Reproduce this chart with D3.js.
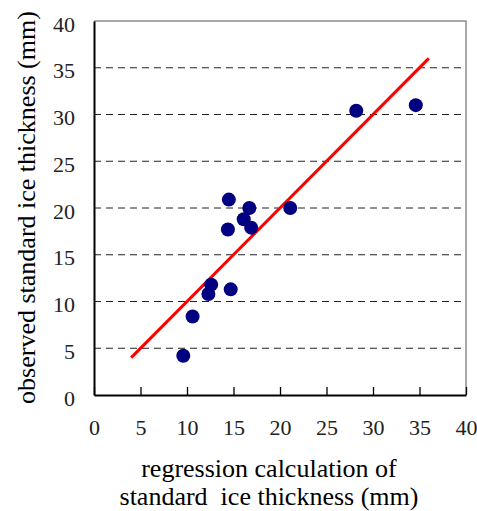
<!DOCTYPE html>
<html>
<head>
<meta charset="utf-8">
<script src="https://cdn.jsdelivr.net/npm/d3@7"></script>
<style>
  html, body { margin: 0; padding: 0; background: #fff; }
  svg text { font-family: "Liberation Serif", "Times New Roman", Times, "DejaVu Serif", serif; }
</style>
</head>
<body>
<div id="chart"></div>
<script>
// regression calculation (x) vs observed (y) standard ice thickness, mm
const calcValues = [9.6, 10.6, 12.3, 12.6, 14.7, 14.5, 14.4, 16.1, 16.7, 16.9, 21.1, 28.2, 34.6]
const observedValues = [4.2, 8.4, 10.8, 11.8, 11.3, 20.9, 17.7, 18.8, 20.0, 17.9, 20.0, 30.4, 31.0]
const fitLine = [[4, 4], [36, 36]]
const xTicks = [0, 5, 10, 15, 20, 25, 30, 35, 40]
const yTicks = [0, 5, 10, 15, 20, 25, 30, 35, 40]
const gridValues = [5, 10, 15, 20, 25, 30, 35]
const xTitle = ["regression calculation of", "standard  ice thickness (mm)"]
const yTitle = "observed standard ice thickness (mm)"

const width = 477
const height = 511
const margin = { top: 21, right: 11, bottom: 116, left: 94 }
const innerW = width - margin.left - margin.right
const innerH = height - margin.top - margin.bottom

const svg = d3.select("#chart")
  .append("svg")
  .attr("width", width)
  .attr("height", height)

const x = d3.scaleLinear().domain([0, 40]).range([margin.left, margin.left + innerW])
const y = d3.scaleLinear().domain([0, 40]).range([margin.top + innerH, margin.top])

// dashed horizontal gridlines
svg.append("g")
  .selectAll("line")
  .data(gridValues)
  .join("line")
  .attr("x1", x(0))
  .attr("x2", x(40))
  .attr("y1", d => y(d))
  .attr("y2", d => y(d))
  .attr("stroke", "#222")
  .attr("stroke-width", 1)
  .attr("stroke-dasharray", "7,5")

// gray frame on top and right
svg.append("path")
  .attr("d", `M${x(0)},${y(40)} H${x(40)} V${y(0)}`)
  .attr("fill", "none")
  .attr("stroke", "#8c8c8c")
  .attr("stroke-width", 1.5)

// bottom axis, ticks pointing inward
const xAxis = svg.append("g")
  .attr("transform", `translate(0,${y(0)})`)
  .call(d3.axisBottom(x).tickValues(xTicks).tickSizeInner(-8).tickSizeOuter(0).tickPadding(0))
xAxis.attr("font-family", null).attr("font-size", null)
xAxis.select(".domain").attr("stroke", "#000").attr("stroke-width", 2)
xAxis.selectAll(".tick line").attr("stroke", "#000").attr("stroke-width", 1.3)
xAxis.selectAll(".tick text")
  .attr("y", 40)
  .attr("dy", null)
  .style("font-size", "22px")
  .attr("fill", "#222")

// left axis
const yAxis = svg.append("g")
  .attr("transform", `translate(${x(0)},0)`)
  .call(d3.axisLeft(y).tickValues(yTicks).tickSize(0).tickPadding(19))
yAxis.attr("font-family", null).attr("font-size", null)
yAxis.select(".domain").attr("stroke", "#000").attr("stroke-width", 2)
yAxis.selectAll(".tick text")
  .attr("dy", 10)
  .style("font-size", "22px")
  .attr("fill", "#222")

// 1:1 fit line
const line = d3.line().x(d => x(d[0])).y(d => y(d[1]))
svg.append("path")
  .datum(fitLine)
  .attr("d", line)
  .attr("fill", "none")
  .attr("stroke", "#ff0000")
  .attr("stroke-width", 3)

// observations
svg.append("g")
  .selectAll("circle")
  .data(calcValues.map((v, i) => ({ calc: v, obs: observedValues[i] })))
  .join("circle")
  .attr("cx", d => x(d.calc))
  .attr("cy", d => y(d.obs))
  .attr("r", 7)
  .attr("fill", "#000080")

// axis titles
svg.append("g")
  .selectAll("text")
  .data(xTitle)
  .join("text")
  .attr("x", 269)
  .attr("y", (d, i) => 477 + i * 28)
  .attr("text-anchor", "middle")
  .style("font-size", "26px")
  .style("white-space", "pre")
  .attr("fill", "#000")
  .text(d => d)

svg.append("text")
  .attr("transform", "translate(35,207.5) rotate(-90)")
  .attr("text-anchor", "middle")
  .style("font-size", "26px")
  .attr("fill", "#000")
  .text(yTitle)
</script>
</body>
</html>
